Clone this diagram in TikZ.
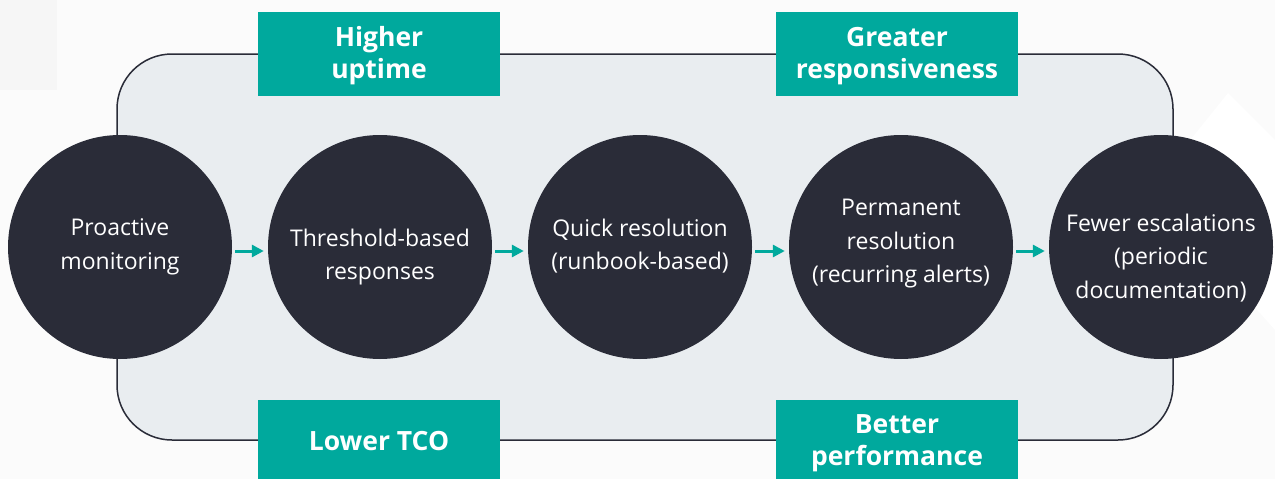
\documentclass[tikz,border=0pt]{standalone}
\usepackage{fontspec}
\setmainfont{Open Sans}
\usetikzlibrary{arrows.meta}
\definecolor{teal}{HTML}{00A99D}
\definecolor{ink}{HTML}{2A2C38}
\definecolor{panel}{HTML}{E9EDF0}
\definecolor{paper}{HTML}{FBFBFB}
\definecolor{haze}{HTML}{F6F6F6}
\tikzset{
  stage/.style={circle, fill=ink, draw=none, minimum size=224pt, inner sep=0pt},
  stagetext/.style={text=white, align=center, inner sep=0pt,
    font=\fontsize{23}{33.5}\selectfont},
  benefit/.style={rectangle, fill=teal, draw=none, minimum width=242pt, minimum height=84pt,
    inner sep=0pt},
  benefittext/.style={text=white, align=center, inner sep=0pt,
    font=\bfseries\fontsize{26.5}{32}\selectfont},
  flow/.style={draw=teal, line width=3pt, -{Triangle[length=12pt,width=12pt]},
    shorten <=3pt, shorten >=4pt},
}
\begin{document}
\begin{tikzpicture}[x=1pt, y=-1pt]
  % page and faint backdrop shapes
  \fill[paper] (0,0) rectangle (1275,479);
  \useasboundingbox (0,0) rectangle (1275,479);
  \fill[haze] (0,0) rectangle (57,90);
  \fill[white] (1228,93) -- (1275,140) -- (1275,330) -- (1150,190) -- cycle;

  % rounded panel behind the stages
  \draw[fill=panel, draw=ink, line width=1.5pt, rounded corners=55pt]
    (117,54) rectangle (1173,440);

  % stages
  \node[stage] (c1) at (120,247) {};
  \node[stage] (c2) at (380,247) {};
  \node[stage] (c3) at (640,247) {};
  \node[stage] (c4) at (901,247) {};
  \node[stage] (c5) at (1161,247) {};
  \node[stagetext] (t1) at ([yshift=0pt]c1.center) {Proactive\\monitoring};
  \node[stagetext] (t2) at ([yshift=-10pt]c2.center) {Threshold-based\\responses};
  \node[stagetext] (t3) at ([yshift=1pt]c3.center) {Quick resolution\\(runbook-based)};
  \node[stagetext] (t4) at ([yshift=3pt]c4.center) {Permanent\\resolution\\(recurring alerts)};
  \node[stagetext] (t5) at ([yshift=-11pt]c5.center) {Fewer escalations\\(periodic\\documentation)};

  % flow between stages
  \draw[flow] ([yshift=-4pt]c1.east) -- ([yshift=-4pt]c2.west);
  \draw[flow] ([yshift=-4pt]c2.east) -- ([yshift=-4pt]c3.west);
  \draw[flow] ([yshift=-4pt]c3.east) -- ([yshift=-4pt]c4.west);
  \draw[flow] ([yshift=-4pt]c4.east) -- ([yshift=-4pt]c5.west);

  % benefits
  \node[benefit] (b1) at (379,54) {};
  \node[benefit] (b2) at (897,54) {};
  \node[benefit] (b3) at (379,442) {};
  \node[benefit] (b4) at (897,442) {};
  \node[benefittext] (l1) at ([yshift=-2pt]b1.center) {Higher\\uptime};
  \node[benefittext] (l2) at ([yshift=-2pt]b2.center) {Greater\\responsiveness};
  \node[benefittext] (l3) at ([yshift=1pt]b3.center) {Lower TCO};
  \node[benefittext] (l4) at ([yshift=-1pt]b4.center) {Better\\performance};
\end{tikzpicture}
\end{document}
